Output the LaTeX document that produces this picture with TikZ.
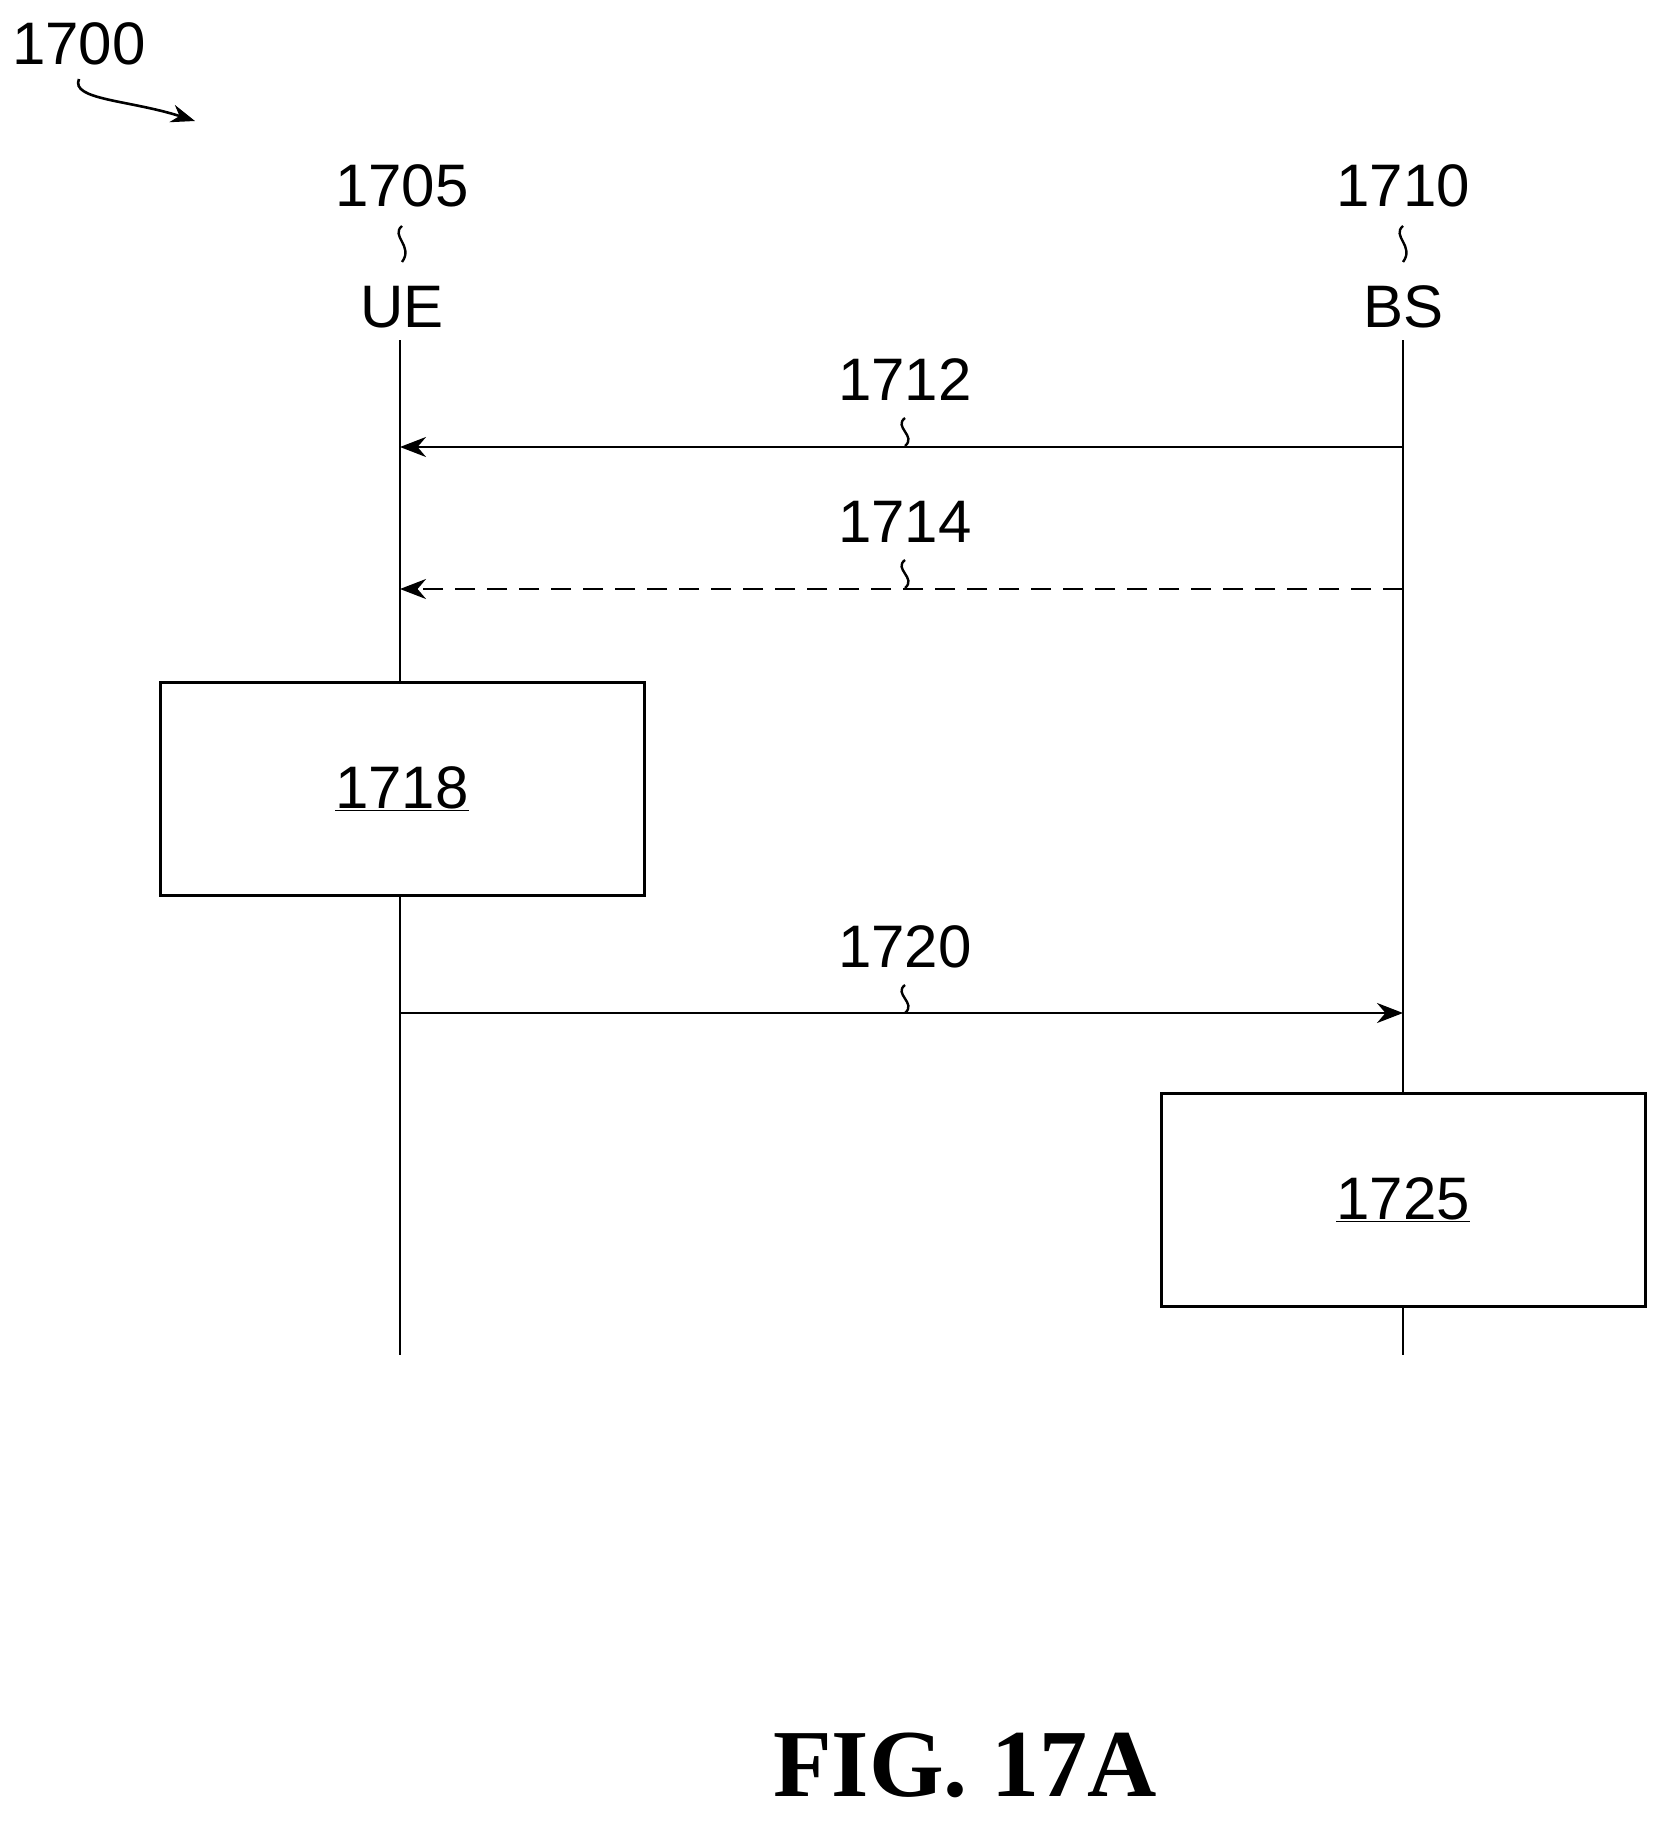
\documentclass[tikz,border=0pt]{standalone}
\usepackage{fontspec}
\setmainfont{Liberation Sans}
\newfontfamily\figfont{Liberation Serif}
\usetikzlibrary{arrows.meta}
\begin{document}
\begin{tikzpicture}[x=1pt,y=-1pt,line width=2.6pt,
 lbl/.style={font=\fontsize{60}{60}\selectfont,inner sep=0pt},
 box/.style={draw,line width=3pt,minimum width=484pt,minimum height=213pt,inner sep=0pt,fill=white},
 msg/.style={-{Stealth[length=26pt,width=20pt]}},
 sq/.style={line width=2.4pt}]
\useasboundingbox (0,0) rectangle (1670,1822);
\node[lbl] (n1700) at (79,44) {1700};
\coordinate (a0) at (79,79); \coordinate (a1) at (195,121);
\draw[-{Stealth[length=24pt,width=18pt]}] (a0) .. controls (70,100) and (130,100) .. (a1);
\node[lbl] (n1705) at (402,186) {1705};
\node[lbl] (ue) at (402,307) {UE};
\node[lbl] (n1710) at (1403,186) {1710};
\node[lbl] (bs) at (1403,307) {BS};
\draw[sq] (402,226) .. controls (390,236) and (414,246) .. (402,262);
\draw[sq] (1403,226) .. controls (1391,236) and (1415,246) .. (1403,262);
\coordinate (uet) at (400,340); \coordinate (ueb) at (400,1355);
\coordinate (bst) at (1403,340); \coordinate (bsb) at (1403,1355);
\draw (uet) -- (ueb);
\draw (bst) -- (bsb);
\coordinate (u1) at (400,447); \coordinate (b1) at (1403,447);
\coordinate (u2) at (400,589); \coordinate (b2) at (1403,589);
\coordinate (u3) at (400,1013); \coordinate (b3) at (1403,1013);
\draw[msg] (b1) -- (u1);
\draw[msg,dash pattern=on 20pt off 12pt] (b2) -- (u2);
\draw[msg] (u3) -- (b3);
\node[lbl] (n1712) at (905,380) {1712};
\node[lbl] (n1714) at (905,522) {1714};
\node[lbl] (n1720) at (905,947) {1720};
\foreach \y in {418,560,985}{
 \draw[sq] (905,\y) .. controls (893,\y+9) and (917,\y+18) .. (905,\y+28);}
\node[box] (b1718) at (402,789) {};
\node[lbl] at (b1718) {\underline{1718}};
\node[box] (b1725) at (1403,1200) {};
\node[lbl] at (b1725) {\underline{1725}};
\node[inner sep=0pt,font=\figfont\bfseries\fontsize{96}{96}\selectfont] (fig) at (965,1765) {FIG. 17A};
\end{tikzpicture}
\end{document}
